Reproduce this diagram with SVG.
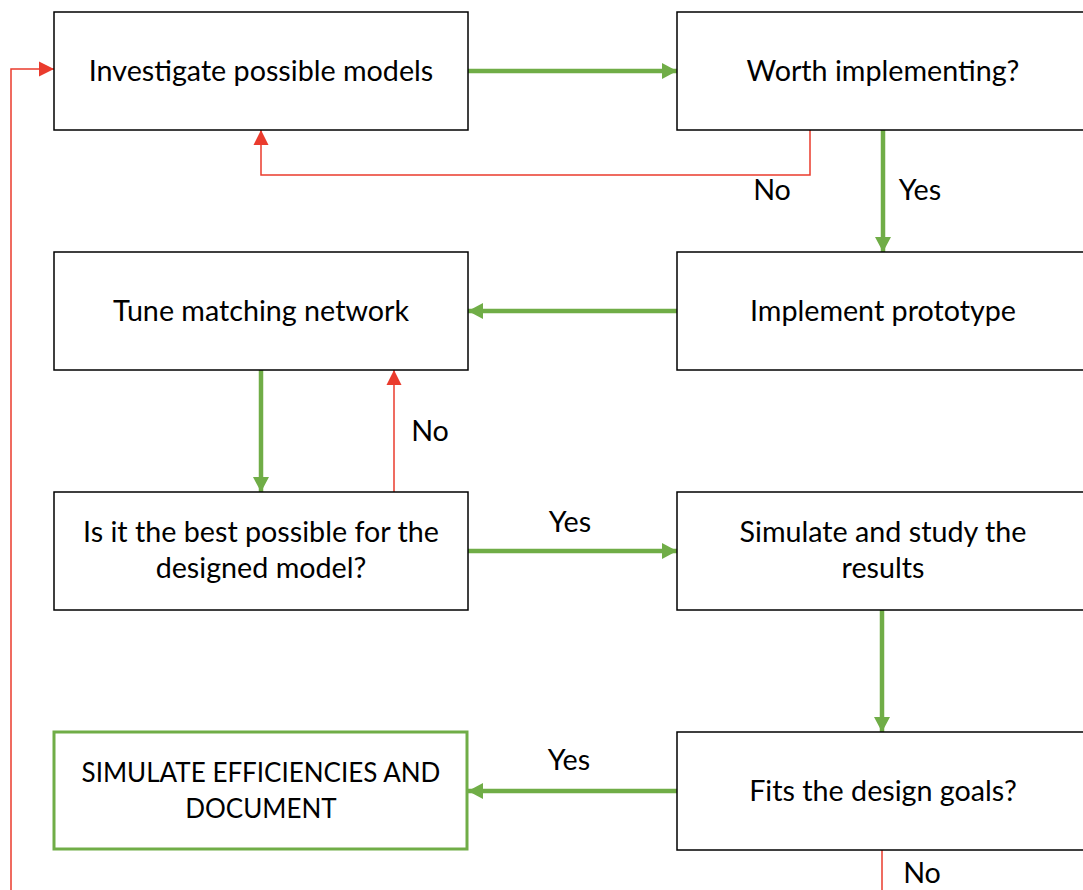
<svg xmlns="http://www.w3.org/2000/svg" width="1083" height="890" viewBox="0 0 1083 890">
  <style>
    .box { fill: #ffffff; stroke: #000000; stroke-width: 1.5; }
    .final { fill: #ffffff; stroke: #70AD47; stroke-width: 3; }
    .label { font-family: Lato, "Liberation Sans", sans-serif; font-size: 28.7px; fill: #000000; text-anchor: middle; }
    .caps { font-size: 26px; }
    .go { fill: none; stroke: #70AD47; stroke-width: 4.5; }
    .back { fill: none; stroke: #EA3B2D; stroke-width: 1.5; }
  </style>
  <defs>
    <marker id="arrowGreen" markerUnits="userSpaceOnUse" markerWidth="16" markerHeight="16" refX="15" refY="8" orient="auto">
      <path d="M0,0 L15,8 L0,16 Z" fill="#70AD47"/>
    </marker>
    <marker id="arrowRed" markerUnits="userSpaceOnUse" markerWidth="16" markerHeight="16" refX="15" refY="8" orient="auto">
      <path d="M0,0.5 L15,8 L0,15.5 Z" fill="#EA3B2D"/>
    </marker>
  </defs>

  <g id="connectors">
    <line class="go" x1="468" y1="71" x2="677" y2="71" marker-end="url(#arrowGreen)"/>
    <polyline class="back" points="810,130 810,175 261,175 261,130" marker-end="url(#arrowRed)"/>
    <line class="go" x1="883" y1="130" x2="883" y2="252" marker-end="url(#arrowGreen)"/>
    <line class="go" x1="677" y1="311" x2="468" y2="311" marker-end="url(#arrowGreen)"/>
    <line class="go" x1="261" y1="370" x2="261" y2="492" marker-end="url(#arrowGreen)"/>
    <line class="back" x1="394" y1="492" x2="394" y2="370" marker-end="url(#arrowRed)"/>
    <line class="go" x1="468" y1="551" x2="677" y2="551" marker-end="url(#arrowGreen)"/>
    <line class="go" x1="882" y1="610" x2="882" y2="732" marker-end="url(#arrowGreen)"/>
    <line class="go" x1="677" y1="791" x2="468" y2="791" marker-end="url(#arrowGreen)"/>
    <line class="back" x1="882" y1="850" x2="882" y2="890"/>
    <polyline class="back" points="11,890 11,69 54,69" marker-end="url(#arrowRed)"/>
    <text class="label" x="772" y="200">No</text>
    <text class="label" x="920" y="200">Yes</text>
    <text class="label" x="430" y="441">No</text>
    <text class="label" x="570" y="532">Yes</text>
    <text class="label" x="569" y="770">Yes</text>
    <text class="label" x="922" y="883">No</text>
  </g>

  <g id="investigate">
    <rect class="box" x="54" y="12" width="414" height="118"/>
    <text class="label" x="261" y="81">Investigate possible models</text>
  </g>
  <g id="worth">
    <rect class="box" x="677" y="12" width="410" height="118"/>
    <text class="label" x="883" y="81">Worth implementing?</text>
  </g>
  <g id="tune">
    <rect class="box" x="54" y="252" width="414" height="118"/>
    <text class="label" x="261" y="321">Tune matching network</text>
  </g>
  <g id="prototype">
    <rect class="box" x="677" y="252" width="410" height="118"/>
    <text class="label" x="883" y="321">Implement prototype</text>
  </g>
  <g id="best">
    <rect class="box" x="54" y="492" width="414" height="118"/>
    <text class="label" x="261" y="542">Is it the best possible for the</text>
    <text class="label" x="261" y="578">designed model?</text>
  </g>
  <g id="simulate">
    <rect class="box" x="677" y="492" width="410" height="118"/>
    <text class="label" x="883" y="542">Simulate and study the</text>
    <text class="label" x="883" y="578">results</text>
  </g>
  <g id="document">
    <rect class="final" x="54" y="732" width="413" height="117"/>
    <text class="label caps" x="261" y="782">SIMULATE EFFICIENCIES AND</text>
    <text class="label caps" x="261" y="818">DOCUMENT</text>
  </g>
  <g id="goals">
    <rect class="box" x="677" y="732" width="410" height="118"/>
    <text class="label" x="883" y="801">Fits the design goals?</text>
  </g>
</svg>
